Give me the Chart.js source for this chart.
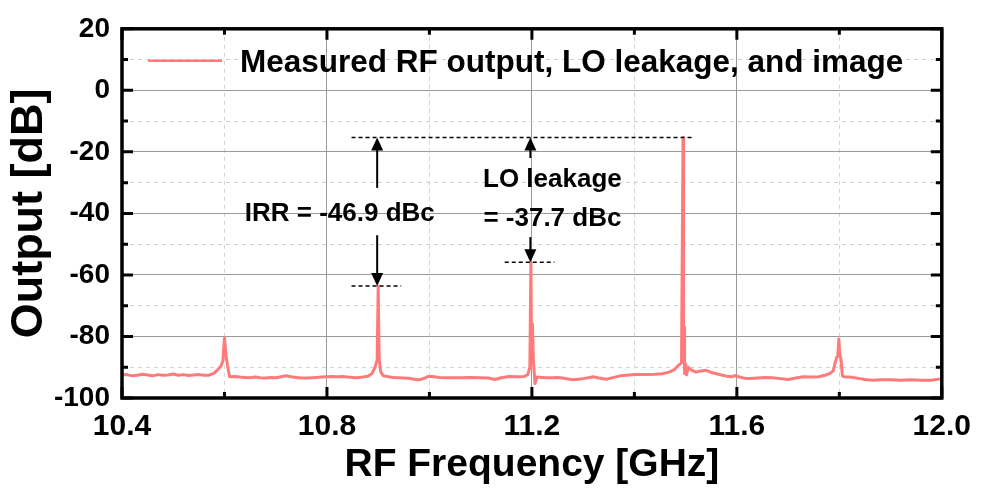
<!DOCTYPE html>
<html>
<head>
<meta charset="utf-8">
<title>Measured RF output spectrum</title>
<script src="https://cdn.jsdelivr.net/npm/chart.js@4.4.1/dist/chart.umd.min.js"></script>
<style>
  body { margin: 0; background: #fff; }
  canvas { display: block; }
</style>
</head>
<body>
<canvas id="spectrum" width="982" height="489"></canvas>
<script>
// Spectrum trace
const freqGHz = [
    10.400, 10.410, 10.420, 10.430, 10.440, 10.450, 10.460, 10.470, 10.480, 10.490,
    10.500, 10.510, 10.520, 10.530, 10.540, 10.550, 10.560, 10.570, 10.580, 10.588,
    10.594, 10.597, 10.600, 10.603, 10.606, 10.610, 10.620, 10.630, 10.640, 10.650,
    10.660, 10.670, 10.680, 10.690, 10.700, 10.710, 10.720, 10.730, 10.740, 10.750,
    10.760, 10.770, 10.780, 10.790, 10.800, 10.810, 10.820, 10.830, 10.840, 10.850,
    10.860, 10.870, 10.880, 10.888, 10.894, 10.898, 10.900, 10.902, 10.905, 10.910,
    10.920, 10.930, 10.940, 10.950, 10.960, 10.970, 10.980, 10.990, 10.997, 11.005,
    11.020, 11.040, 11.060, 11.080, 11.100, 11.115, 11.128, 11.140, 11.155, 11.170,
    11.185, 11.192, 11.196, 11.198, 11.199, 11.201, 11.203, 11.206, 11.210, 11.220,
    11.230, 11.240, 11.250, 11.260, 11.270, 11.280, 11.290, 11.300, 11.310, 11.320,
    11.330, 11.345, 11.360, 11.372, 11.385, 11.400, 11.420, 11.440, 11.455, 11.468,
    11.478, 11.486, 11.492, 11.494, 11.495, 11.496, 11.497, 11.498, 11.500, 11.502,
    11.505, 11.510, 11.520, 11.530, 11.540, 11.550, 11.560, 11.570, 11.580, 11.590,
    11.598, 11.605, 11.615, 11.625, 11.640, 11.655, 11.670, 11.685, 11.700, 11.715,
    11.730, 11.745, 11.760, 11.772, 11.782, 11.788, 11.792, 11.795, 11.797, 11.799,
    11.801, 11.803, 11.806, 11.810, 11.820, 11.830, 11.840, 11.850, 11.865, 11.880,
    11.900, 11.920, 11.940, 11.960, 11.980, 12.000
];
const outputDb = [
    -92.5, -92.4, -92.8, -92.6, -92.3, -92.5, -92.8, -92.4, -92.6, -92.5,
    -92.2, -92.6, -92.4, -92.7, -92.5, -92.4, -92.6, -92.6, -91.9, -90.6,
    -89.4, -87.8, -80.5, -86.0, -89.5, -93.1, -93.0, -93.2, -93.3, -93.4,
    -93.2, -93.4, -93.5, -93.3, -93.4, -93.1, -92.8, -93.1, -93.3, -93.5,
    -93.5, -93.4, -93.3, -93.2, -93.1, -93.0, -93.1, -93.0, -93.2, -93.3,
    -93.4, -93.2, -92.9, -92.0, -90.0, -87.5, -63.6, -87.5, -91.5, -92.8,
    -93.1, -93.3, -93.4, -93.5, -93.6, -93.9, -94.1, -93.6, -93.0, -93.0,
    -93.3, -93.4, -93.4, -93.3, -93.4, -93.5, -94.0, -93.4, -93.0, -93.1,
    -93.0, -92.4, -90.0, -55.9, -76.0, -76.0, -88.0, -95.3, -93.2, -93.3,
    -93.4, -93.4, -93.3, -93.5, -93.8, -94.1, -93.9, -93.7, -93.4, -93.1,
    -93.5, -93.9, -93.3, -92.8, -92.6, -92.4, -92.4, -92.3, -92.1, -91.6,
    -90.8, -89.4, -88.6, -38.0, -15.3, -77.0, -77.0, -92.0, -89.0, -92.5,
    -90.0, -90.8, -91.6, -91.2, -91.0, -91.7, -92.1, -92.5, -92.9, -93.1,
    -92.7, -93.2, -93.6, -93.7, -93.5, -93.3, -93.4, -93.7, -94.0, -93.5,
    -93.1, -93.2, -93.1, -92.6, -92.0, -91.2, -88.5, -86.7, -86.5, -80.8,
    -86.0, -87.0, -92.8, -93.1, -93.2, -93.4, -93.7, -94.0, -94.2, -94.1,
    -94.1, -94.2, -94.1, -94.2, -94.2, -93.7
];

// Axis ticks
const xTicks = [10.4, 10.8, 11.2, 11.6, 12.0];
const xMinorTicks = [10.6, 11.0, 11.4, 11.8];
const yTicks = [-100, -80, -60, -40, -20, 0, 20];
const yMinorTicks = [-90, -70, -50, -30, -10, 10];

// Annotation levels (dB) and marker positions (GHz)
const carrierLevel = -15.3;
const imageLevel = -63.6;
const loLevel = -55.9;
const imageFreq = 10.898;
const loFreq = 11.197;

const FONT = "Arial, 'Liberation Sans', sans-serif";
const TRACE = "#ff7a7a";
Chart.defaults.font.family = FONT;
Chart.defaults.color = "#000";


// Frame, inward ticks, legend and arrows
const overlayPlugin = {
    id: "overlay",
    afterDraw(chart) {
        const ctx = chart.ctx;
        const a = chart.chartArea;
        const xs = chart.scales.x;
        const ys = chart.scales.y;
        const px = v => xs.getPixelForValue(v);
        const py = v => ys.getPixelForValue(v);

        ctx.save();
        ctx.strokeStyle = "#000";
        ctx.lineWidth = 3;

        function xTick(v, len) {
            ctx.beginPath();
            ctx.moveTo(px(v), a.bottom);
            ctx.lineTo(px(v), a.bottom - len);
            ctx.moveTo(px(v), a.top);
            ctx.lineTo(px(v), a.top + len);
            ctx.stroke();
        }
        function yTick(v, len) {
            ctx.beginPath();
            ctx.moveTo(a.left, py(v));
            ctx.lineTo(a.left + len, py(v));
            ctx.moveTo(a.right, py(v));
            ctx.lineTo(a.right - len, py(v));
            ctx.stroke();
        }
        xTicks.forEach(v => xTick(v, 11));
        xMinorTicks.forEach(v => xTick(v, 6));
        yTicks.forEach(v => yTick(v, 11));
        yMinorTicks.forEach(v => yTick(v, 6));

        ctx.lineWidth = 3.5;
        ctx.strokeRect(a.left, a.top, a.right - a.left, a.bottom - a.top);

        // legend
        ctx.strokeStyle = TRACE;
        ctx.lineWidth = 2.5;
        ctx.beginPath();
        ctx.moveTo(a.left + 26, a.top + 32);
        ctx.lineTo(a.left + 100, a.top + 32);
        ctx.stroke();
        ctx.fillStyle = "#000";
        ctx.font = "bold 31.5px " + FONT;
        ctx.textAlign = "left";
        ctx.textBaseline = "alphabetic";
        ctx.fillText(chart.data.datasets[0].label, a.left + 118, a.top + 43);

        // dashed reference levels
        ctx.strokeStyle = "#000";
        ctx.lineWidth = 1.5;
        ctx.setLineDash([4, 3]);
        function level(y, f1, f2) {
            ctx.beginPath();
            ctx.moveTo(px(f1), py(y));
            ctx.lineTo(px(f2), py(y));
            ctx.stroke();
        }
        level(carrierLevel, 10.848, 11.517);
        level(imageLevel, 10.848, 10.945);
        level(loLevel, 11.147, 11.244);
        ctx.setLineDash([]);

        // arrows
        function arrow(f, yFrom, yTo) {
            const x = px(f);
            const y0 = py(yFrom);
            const y1 = py(yTo);
            const dir = y1 > y0 ? 1 : -1;
            ctx.lineWidth = 2;
            ctx.beginPath();
            ctx.moveTo(x, y0);
            ctx.lineTo(x, y1 - dir * 10);
            ctx.stroke();
            ctx.beginPath();
            ctx.moveTo(x, y1);
            ctx.lineTo(x - 6, y1 - dir * 13);
            ctx.lineTo(x + 6, y1 - dir * 13);
            ctx.closePath();
            ctx.fill();
        }
        arrow(imageFreq, -31.7, carrierLevel);
        arrow(imageFreq, -47.1, imageLevel);
        arrow(loFreq, -22.0, carrierLevel);
        arrow(loFreq, -47.7, loLevel);

        ctx.font = "bold 26px " + FONT;
        ctx.textAlign = "center";
        ctx.textBaseline = "middle";
        ctx.fillText("IRR = -46.9 dBc", px(10.825), py(-40.3));
        ctx.fillText("LO leakage", px(11.24), py(-29.1));
        ctx.fillText("= -37.7 dBc", px(11.24), py(-41.9));

        ctx.restore();
    }
};


const chart = new Chart(document.getElementById("spectrum"), {

    type: "line",

    data: {
        datasets: [{
            label: "Measured RF output, LO leakage, and image",
            data: freqGHz.map((f, i) => ({ x: f, y: outputDb[i] })),
            borderColor: TRACE,
            backgroundColor: TRACE,
            borderWidth: 3,
            borderJoinStyle: "round",
            pointRadius: 0,
            tension: 0
        }]
    },

    options: {
        responsive: false,
        animation: false,
        devicePixelRatio: 1,
        layout: { padding: { top: 24, right: 35, left: 0, bottom: 0 } },
        plugins: {
            legend: { display: false },
            tooltip: { enabled: false }
        },
        scales: {
            x: {
                type: "linear",
                min: 10.4,
                max: 12.0,
                afterBuildTicks: s => { s.ticks = xTicks.map(v => ({ value: v })); },
                afterFit: s => { s.height = 91; },
                ticks: {
                    font: { size: 30, weight: "bold" },
                    padding: 11,
                    maxRotation: 0,
                    callback: v => Number(v).toFixed(1)
                },
                grid: { color: "#9a9a9a", lineWidth: 1, drawTicks: false },
                border: { display: false },
                title: {
                    display: true,
                    text: "RF Frequency [GHz]",
                    font: { size: 39, weight: "bold" },
                    padding: { top: 0, bottom: 0 }
                }
            },
            xMinor: {
                type: "linear",
                position: "bottom",
                min: 10.4,
                max: 12.0,
                afterBuildTicks: s => { s.ticks = xMinorTicks.map(v => ({ value: v })); },
                afterFit: s => { s.height = 0; },
                ticks: { display: false },
                grid: { color: "#d2d2d2", lineWidth: 1, drawTicks: false },
                border: { display: false, dash: [4, 4] }
            },
            y: {
                min: -100,
                max: 20,
                afterBuildTicks: s => { s.ticks = yTicks.map(v => ({ value: v })); },
                afterFit: s => { s.width = 122; },
                ticks: {
                    font: { size: 28, weight: "bold" },
                    padding: 12
                },
                grid: { color: "#9a9a9a", lineWidth: 1, drawTicks: false },
                border: { display: false },
                title: {
                    display: true,
                    text: "Output [dB]",
                    font: { size: 45, weight: "bold" },
                    padding: { top: 3, bottom: 0 }
                }
            },
            yMinor: {
                position: "left",
                min: -100,
                max: 20,
                afterBuildTicks: s => { s.ticks = yMinorTicks.map(v => ({ value: v })); },
                afterFit: s => { s.width = 0; },
                ticks: { display: false },
                grid: { color: "#d2d2d2", lineWidth: 1, drawTicks: false },
                border: { display: false, dash: [4, 4] }
            }
        }
    },

    plugins: [overlayPlugin]

});
</script>
</body>
</html>
